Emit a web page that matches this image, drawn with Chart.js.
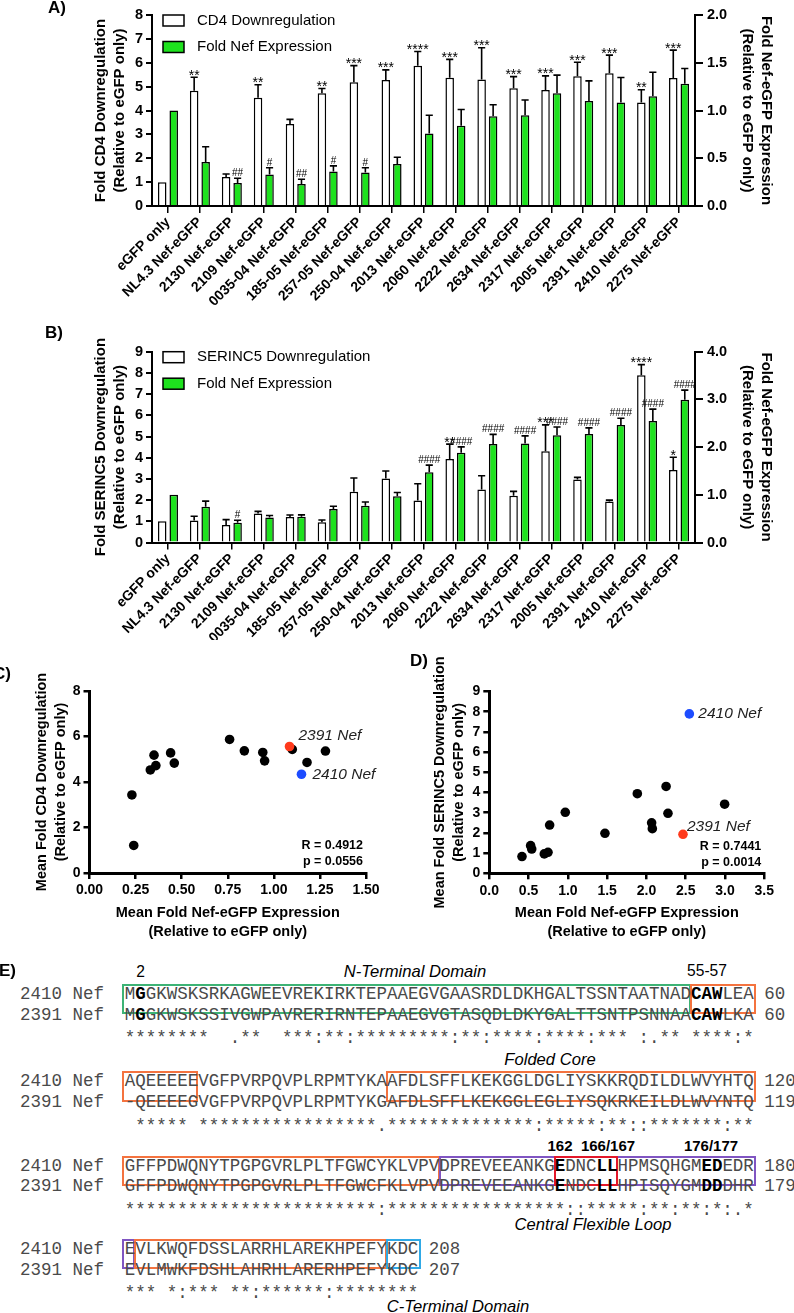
<!DOCTYPE html>
<html>
<head>
<meta charset="utf-8">
<script src="https://cdn.jsdelivr.net/npm/chart.js@4.4.1/dist/chart.umd.min.js"></script>
<style>
  body { margin: 0; background: #fff; width: 794px; height: 1313px; position: relative; overflow: hidden;
         font-family: Arial, "Liberation Sans", Helvetica, sans-serif; }
  canvas { position: absolute; }
  .ann { position: absolute; transform: translate(-50%, -50%); white-space: nowrap; line-height: 1; color: #000; }
  .seq { position: absolute; left: 20px; font-family: "Liberation Mono", "Courier New", monospace;
         font-size: 17.48px; line-height: 20px; white-space: pre; color: #4a4a4a; }
  .box { position: absolute; border: 2px solid; box-sizing: border-box; }
</style>
</head>
<body>
<canvas id="chartA" width="794" height="318" style="left:0;top:0"></canvas>
<canvas id="chartB" width="794" height="320" style="left:0;top:320px"></canvas>
<canvas id="chartC" width="397" height="305" style="left:0;top:640px"></canvas>
<canvas id="chartD" width="397" height="305" style="left:397px;top:640px"></canvas>
<div id="panelE"></div>

<script>
/* ---------- data ---------- */
const categories = ['eGFP only', 'NL4.3 Nef-eGFP', '2130 Nef-eGFP', '2109 Nef-eGFP', '0035-04 Nef-eGFP',
  '185-05 Nef-eGFP', '257-05 Nef-eGFP', '250-04 Nef-eGFP', '2013 Nef-eGFP', '2060 Nef-eGFP', '2222 Nef-eGFP',
  '2634 Nef-eGFP', '2317 Nef-eGFP', '2005 Nef-eGFP', '2391 Nef-eGFP', '2410 Nef-eGFP', '2275 Nef-eGFP'];

// panel A
const cd4Mean  = [1.0, 4.83, 1.21, 4.53, 3.43, 4.72, 5.18, 5.28, 5.87, 5.37, 5.30, 4.93, 4.86, 5.43, 5.56, 4.34, 5.36];
const cd4Err   = [0, 0.56, 0.13, 0.55, 0.20, 0.20, 0.70, 0.42, 0.60, 0.77, 1.33, 0.49, 0.59, 0.59, 0.76, 0.53, 1.17];
const cd4Sig   = ['', '**', '', '**', '', '**', '***', '***', '****', '***', '***', '***', '***', '***', '***', '**', '***'];
const nefMeanA = [1.0, 0.46, 0.24, 0.33, 0.23, 0.36, 0.35, 0.44, 0.76, 0.84, 0.94, 0.95, 1.18, 1.10, 1.085, 1.15, 1.28];
const nefErrA  = [0, 0.16, 0.05, 0.07, 0.05, 0.06, 0.05, 0.07, 0.19, 0.17, 0.12, 0.16, 0.19, 0.21, 0.26, 0.25, 0.16];
const nefSigA  = ['', '', '##', '#', '##', '#', '#', '', '', '', '', '', '', '', '', '', ''];

// panel B
const serincMean = [1.0, 1.04, 0.83, 1.37, 1.20, 0.96, 2.39, 3.02, 1.98, 3.94, 2.50, 2.21, 4.30, 2.97, 1.93, 7.89, 3.42];
const serincErr  = [0, 0.20, 0.25, 0.10, 0.10, 0.10, 0.65, 0.35, 0.79, 0.70, 0.65, 0.20, 1.25, 0.10, 0.07, 0.50, 0.60];
const serincSig  = ['', '', '', '', '', '', '', '', '', '**', '', '', '***', '', '', '****', '*'];
const nefMeanB   = [1.0, 0.747, 0.416, 0.526, 0.54, 0.70, 0.768, 0.967, 1.472, 1.884, 2.066, 2.075, 2.25, 2.274, 2.465, 2.546, 2.995];
const nefErrB    = [0, 0.12, 0.05, 0.04, 0.04, 0.06, 0.08, 0.08, 0.15, 0.12, 0.20, 0.16, 0.17, 0.13, 0.14, 0.25, 0.20];
const nefSigB    = ['', '', '#', '', '', '', '', '', '####', '####', '####', '####', '####', '####', '####', '####', '####'];

// panels C / D (Nef variants only, highlighted ones)
const highlightNames = ['2391 Nef', '2410 Nef'];
const highlightIndex = [14, 15];
const statsC = ['R = 0.4912', 'p = 0.0556'];
const statsD = ['R = 0.7441', 'p = 0.0014'];

/* ---------- styles ---------- */
const FONT = 'Arial, "Liberation Sans", Helvetica, sans-serif';
const GREEN = '#1ee21e';
const RED = '#ff3a1c';
const BLUE = '#1d4cff';

/* error bars, significance marks and legend for the bar panels */
const barExtras = {
  id: 'barExtras',
  afterDatasetsDraw(chart, args, opts) {
    const ctx = chart.ctx;
    ctx.save();
    chart.data.datasets.forEach((ds, di) => {
      const meta = chart.getDatasetMeta(di);
      const scale = chart.scales[ds.yAxisID];
      meta.data.forEach((bar, i) => {
        let capY = bar.y;
        const err = ds.errors[i];
        if (err > 0) {
          capY = scale.getPixelForValue(ds.data[i] + err);
          const hw = bar.width * 0.42;
          ctx.strokeStyle = '#000';
          ctx.lineWidth = 1.6;
          ctx.beginPath();
          ctx.moveTo(bar.x, bar.y);
          ctx.lineTo(bar.x, capY);
          ctx.moveTo(bar.x - hw, capY);
          ctx.lineTo(bar.x + hw, capY);
          ctx.stroke();
        }
        const s = ds.sig[i];
        if (s) {
          ctx.fillStyle = '#000';
          ctx.textAlign = 'center';
          ctx.textBaseline = 'alphabetic';
          if (s[0] === '*') {
            ctx.font = '14px ' + FONT;
            ctx.fillText(s, bar.x, capY + 2.5);
          } else {
            ctx.font = '10px ' + FONT;
            ctx.fillText(s, bar.x, capY - 2);
          }
        }
      });
    });
    // legend
    const a = chart.chartArea;
    chart.data.datasets.forEach((ds, di) => {
      const cy = a.top + 5.5 + di * 26.5;
      const x = a.left + 11;
      ctx.fillStyle = ds.backgroundColor;
      ctx.fillRect(x, cy - 5.5, 21, 11);
      ctx.strokeStyle = '#000';
      ctx.lineWidth = 1.5;
      ctx.strokeRect(x, cy - 5.5, 21, 11);
      ctx.fillStyle = '#000';
      ctx.font = '15px ' + FONT;
      ctx.textAlign = 'left';
      ctx.textBaseline = 'middle';
      ctx.fillText(ds.label, x + 34, cy);
    });
    ctx.restore();
  }
};

function makeBars(id, cfg) {
  const canvas = document.getElementById(id);
  const H = canvas.height;
  const tickFont = { size: 14.5, weight: 'bold', family: FONT };
  const titleFont = { size: 15, weight: 'bold', family: FONT, lineHeight: 1.3 };
  return new Chart(canvas, {
    type: 'bar',
    data: {
      labels: categories,
      datasets: [
        { label: cfg.names[0], data: cfg.left, errors: cfg.leftErr, sig: cfg.leftSig, yAxisID: 'y',
          backgroundColor: '#ffffff', borderColor: '#000', borderWidth: 1.5,
          categoryPercentage: 0.72, barPercentage: 0.74 },
        { label: cfg.names[1], data: cfg.right, errors: cfg.rightErr, sig: cfg.rightSig, yAxisID: 'y1',
          backgroundColor: GREEN, borderColor: '#000', borderWidth: 1.5,
          categoryPercentage: 0.72, barPercentage: 0.74 }
      ]
    },
    options: {
      responsive: false,
      animation: false,
      layout: { padding: { top: cfg.top, left: 0, right: 0, bottom: 0 } },
      plugins: { legend: { display: false }, tooltip: { enabled: false } },
      scales: {
        x: {
          grid: { drawOnChartArea: false, offset: false, tickLength: 7, color: '#000', lineWidth: 1.5 },
          border: { color: '#000', width: 2 },
          ticks: { color: '#000', font: { size: 14, weight: 'bold', family: FONT },
                   minRotation: 45, maxRotation: 45, autoSkip: false, padding: 1 },
          afterFit: s => { s.height = H - cfg.bottom; }
        },
        y: {
          position: 'left', min: 0, max: cfg.leftMax,
          ticks: { stepSize: 1, color: '#000', font: tickFont, padding: 3 },
          grid: { drawOnChartArea: false, tickLength: 6, color: '#000', lineWidth: 2 },
          border: { color: '#000', width: 2 },
          title: { display: true, text: cfg.leftTitle, color: '#000', font: titleFont, padding: { top: 91, bottom: 0 } },
          afterFit: s => { s.width = 152; }
        },
        y1: {
          position: 'right', min: 0, max: cfg.rightMax,
          ticks: { stepSize: cfg.rightStep, color: '#000', font: tickFont, padding: 4,
                   callback: v => v.toFixed(1) },
          grid: { drawOnChartArea: false, tickLength: 8, color: '#000', lineWidth: 2 },
          border: { color: '#000', width: 2 },
          title: { display: true, text: ['Fold Nef-eGFP Expression', '(Relative to eGFP only)'],
                   color: '#000', font: titleFont, padding: { top: 18, bottom: 0 } },
          afterFit: s => { s.width = 99; }
        }
      }
    },
    plugins: [barExtras]
  });
}

makeBars('chartA', {
  names: ['CD4 Downregulation', 'Fold Nef Expression'],
  left: cd4Mean, leftErr: cd4Err, leftSig: cd4Sig,
  right: nefMeanA, rightErr: nefErrA, rightSig: nefSigA,
  leftMax: 8, rightMax: 2, rightStep: 0.5,
  leftTitle: ['Fold CD4 Downregulation', '(Relative to eGFP only)'],
  top: 15, bottom: 206
});

makeBars('chartB', {
  names: ['SERINC5 Downregulation', 'Fold Nef Expression'],
  left: serincMean, leftErr: serincErr, leftSig: serincSig,
  right: nefMeanB, rightErr: nefErrB, rightSig: nefSigB,
  leftMax: 9, rightMax: 4, rightStep: 1,
  leftTitle: ['Fold SERINC5 Downregulation', '(Relative to eGFP only)'],
  top: 31.7, bottom: 222.5
});

/* point labels and correlation stats for the scatter panels */
const scatterNotes = {
  id: 'scatterNotes',
  afterDatasetsDraw(chart, args, opts) {
    const ctx = chart.ctx;
    const meta = chart.getDatasetMeta(0);
    ctx.save();
    ctx.fillStyle = '#222';
    ctx.font = 'italic 15.5px ' + FONT;
    ctx.textAlign = 'left';
    ctx.textBaseline = 'middle';
    opts.labels.forEach(l => {
      const pt = meta.data[l.index];
      ctx.fillText(l.text, pt.x + l.dx, pt.y + l.dy);
    });
    const a = chart.chartArea;
    ctx.fillStyle = '#000';
    ctx.font = 'bold 12.5px ' + FONT;
    ctx.textAlign = 'right';
    ctx.fillText(opts.stats[0], a.right - 3, a.bottom - 27);
    ctx.fillText(opts.stats[1], a.right - 3, a.bottom - 11);
    ctx.restore();
  }
};

function makeScatter(id, cfg) {
  const canvas = document.getElementById(id);
  const H = canvas.height;
  const tickFont = { size: 14, weight: 'bold', family: FONT };
  const titleFont = { size: 14.5, weight: 'bold', family: FONT, lineHeight: 1.3 };
  const nef = cfg.xs.slice(1);
  const points = nef.map((x, k) => ({ x: x, y: cfg.ys[k + 1] }));
  const colors = points.map((p, k) => k + 1 === highlightIndex[0] ? RED : (k + 1 === highlightIndex[1] ? BLUE : '#000'));
  return new Chart(canvas, {
    type: 'scatter',
    data: { datasets: [{ data: points, pointBackgroundColor: colors, pointBorderWidth: 0, pointRadius: 4.8 }] },
    options: {
      responsive: false,
      animation: false,
      layout: { padding: { top: cfg.top, right: cfg.right, left: 0, bottom: 0 } },
      plugins: {
        legend: { display: false }, tooltip: { enabled: false },
        scatterNotes: { labels: cfg.labels, stats: cfg.stats }
      },
      scales: {
        x: {
          type: 'linear', min: 0, max: cfg.xMax,
          ticks: { stepSize: cfg.xStep, color: '#000', font: tickFont, padding: 3,
                   callback: v => v.toFixed(cfg.xDec) },
          grid: { drawOnChartArea: false, tickLength: 6, color: '#000', lineWidth: 2.5 },
          border: { color: '#000', width: 3 },
          title: { display: true, text: ['Mean Fold Nef-eGFP Expression', '(Relative to eGFP only)'],
                   color: '#000', font: titleFont, padding: { top: 0, bottom: 3.5 } },
          afterFit: s => { s.height = H - cfg.bottom; }
        },
        y: {
          min: 0, max: cfg.yMax,
          ticks: { stepSize: cfg.yStep, color: '#000', font: tickFont, padding: 3 },
          grid: { drawOnChartArea: false, tickLength: 6, color: '#000', lineWidth: 2.5 },
          border: { color: '#000', width: 3 },
          title: { display: true, text: cfg.yTitle, color: '#000', font: titleFont,
                   padding: { top: cfg.titlePad, bottom: 0 } },
          afterFit: s => { s.width = cfg.left; }
        }
      }
    },
    plugins: [scatterNotes]
  });
}

makeScatter('chartC', {
  xs: nefMeanA, ys: cd4Mean, xMax: 1.5, xStep: 0.25, xDec: 2, yMax: 8, yStep: 2,
  yTitle: ['Mean Fold CD4 Downregulation', '(Relative to eGFP only)'],
  labels: [
    { index: highlightIndex[0] - 1, text: highlightNames[0], dx: 9, dy: -10.5 },
    { index: highlightIndex[1] - 1, text: highlightNames[1], dx: 11, dy: 0 }
  ],
  stats: statsC, top: 51, bottom: 233, left: 89.5, right: 31, titlePad: 32.5
});

makeScatter('chartD', {
  xs: nefMeanB, ys: serincMean, xMax: 3.5, xStep: 0.5, xDec: 1, yMax: 9, yStep: 1,
  yTitle: ['Mean Fold SERINC5 Downregulation', '(Relative to eGFP only)'],
  labels: [
    { index: highlightIndex[0] - 1, text: highlightNames[0], dx: 4, dy: -7.5 },
    { index: highlightIndex[1] - 1, text: highlightNames[1], dx: 9, dy: 0 }
  ],
  stats: statsD, top: 51.5, bottom: 233.3, left: 92.3, right: 29.7, titlePad: 33.5
});

/* ---------- panel E: alignment ---------- */
const seq2410 = ['MGGKWSKSRKAGWEEVREKIRKTEPAAEGVGAASRDLDKHGALTSSNTAATNADCAWLEA',
                 'AQEEEEEVGFPVRPQVPLRPMTYKAAFDLSFFLKEKGGLDGLIYSKKRQDILDLWVYHTQ',
                 'GFFPDWQNYTPGPGVRLPLTFGWCYKLVPVDPREVEEANKGEDNCLLHPMSQHGMEDEDR',
                 'EVLKWQFDSSLARRHLAREKHPEFYKDC'];
const seq2391 = ['MGGKWSKSSIVGWPAVRERIRNTEPAAEGVGTASQDLDKYGALTTSNTPSNNAACAWLKA',
                 '-QEEEEGVGFPVRPQVPLRPMTYKGAFDLSFFLKEKGGLEGLIYSQKRKEILDLWVYNTQ',
                 'GFFPDWQNYTPGPGVRLPLTFGWCFKLVPVDPREVEEANKGENDCLLHPISQYGMDDDHR',
                 'EVLMWKFDSHLAHRHLARERHPEFYKDC'];
const end2410 = [60, 120, 180, 208];
const end2391 = [60, 119, 179, 207];
const consensus = ['********  .**  ***:**:*********:**:****:****:*** :.** ****:*',
                   ' ***** *****************.**************:*****:**::*******:**',
                   '************************:*****************::*****:**:**:*:.*',
                   '*** *:*** **:******:********'];
const boldPos = [[2, 55, 56, 57], [], [42, 46, 47, 56, 57], []];
const domainBoxes = [
  [[1, 54, '#3db375'], [55, 60, '#f4733f']],
  [[1, 7, '#f4733f'], [26, 60, '#f4733f']],
  [[1, 30, '#f4733f'], [31, 60, '#8055c2'], [42, 47, '#e3172a']],
  [[1, 1, '#8055c2'], [2, 25, '#f4733f'], [26, 28, '#2fa9e6']]
];
const blockY = [993.3, 1080.7, 1165, 1248.3];
const eNotes = [
  { t: '2', x: 140.5, y: 971.7, s: 'font-size:15.6px' },
  { t: 'N-Terminal Domain', x: 415, y: 971.7, s: 'font-size:16.6px;font-style:italic' },
  { t: '55-57', x: 707, y: 971.2, s: 'font-size:15.6px' },
  { t: 'Folded Core', x: 550, y: 1060, s: 'font-size:16.6px;font-style:italic' },
  { t: '162', x: 560, y: 1145, s: 'font-size:15px;font-weight:bold' },
  { t: '166/167', x: 608, y: 1145, s: 'font-size:15px;font-weight:bold' },
  { t: '176/177', x: 711, y: 1145, s: 'font-size:15px;font-weight:bold' },
  { t: 'Central Flexible Loop', x: 593, y: 1225, s: 'font-size:16.6px;font-style:italic' },
  { t: 'C-Terminal Domain', x: 458, y: 1307, s: 'font-size:16.6px;font-style:italic' },
  { t: 'A)', x: 57, y: 6.5, s: 'font-size:17px;font-weight:bold' },
  { t: 'B)', x: 54, y: 331.5, s: 'font-size:17px;font-weight:bold' },
  { t: 'C)', x: 2, y: 673, s: 'font-size:17px;font-weight:bold' },
  { t: 'D)', x: 419, y: 660, s: 'font-size:17px;font-weight:bold' },
  { t: 'E)', x: 7.5, y: 970, s: 'font-size:17px;font-weight:bold' }
];

const P = 10.488, X0 = 125;
const panelE = document.getElementById('panelE');
function edge(k) { return k === 0 ? X0 - 3 : X0 + k * P - 1; }
function seqHtml(seq, bold) {
  return seq.split('').map((c, i) => bold.includes(i + 1) ? '<b style="color:#000">' + c + '</b>' : c).join('');
}
function addDiv(cls, style, html) {
  const d = document.createElement('div');
  d.className = cls;
  d.setAttribute('style', style);
  d.innerHTML = html;
  panelE.appendChild(d);
}
blockY.forEach((y, b) => {
  domainBoxes[b].forEach(([s, e, col]) => {
    const l = edge(s - 1), r = edge(e) + (e === seq2410[b].length ? 3 : 1);
    addDiv('box', `left:${l}px;top:${y - 9.5}px;width:${r - l}px;height:${30.7}px;border-color:${col}`, '');
  });
  addDiv('seq', `top:${y - 9.4}px`, '2410 Nef  ' + seqHtml(seq2410[b], boldPos[b]) + ' ' + end2410[b]);
  addDiv('seq', `top:${y + 20.7 - 9.4}px`, '2391 Nef  ' + seqHtml(seq2391[b], boldPos[b]) + ' ' + end2391[b]);
  addDiv('seq', `top:${y + 44.5 - 9.4}px`, '          ' + consensus[b]);
});
eNotes.forEach(n => addDiv('ann', `left:${n.x}px;top:${n.y}px;${n.s}`, n.t));
</script>
</body>
</html>
